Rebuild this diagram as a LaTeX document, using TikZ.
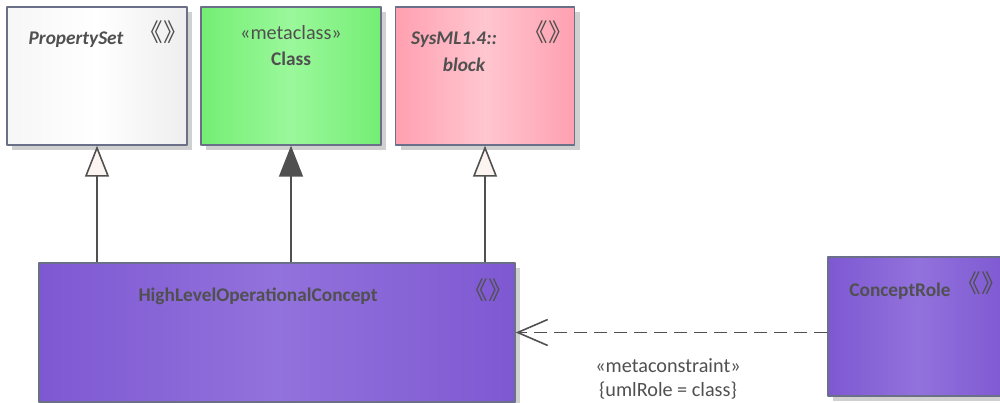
\documentclass[tikz,border=0pt]{standalone}
\usepackage{fontspec}
\setmainfont{Carlito}
\newfontfamily\cjk{Noto Sans CJK SC}
\usetikzlibrary{arrows.meta,shadows}
\definecolor{BorderGray}{HTML}{6B7088}
\definecolor{TextGray}{HTML}{505050}
\definecolor{ShadowGray}{HTML}{D0D0D0}
\definecolor{SetLight}{HTML}{F6F6F6}
\definecolor{SetDark}{HTML}{EEEEEE}
\definecolor{MetaGreen}{HTML}{74EE74}
\definecolor{MetaGreenLight}{HTML}{9AF89A}
\definecolor{BlockPink}{HTML}{FFA0B0}
\definecolor{BlockPinkLight}{HTML}{FFC6D0}
\definecolor{ConceptPurple}{HTML}{7E58D2}
\definecolor{ConceptPurpleLight}{HTML}{9272DC}
\definecolor{TipFill}{HTML}{FBF4F0}

\begin{document}
\begin{tikzpicture}[
  line join=round,
  font=\fontsize{11.5}{13}\selectfont,
  umlbox/.style={draw=BorderGray, line width=0.8pt, inner sep=0pt,
    drop shadow={shadow xshift=0.1cm, shadow yshift=-0.1cm, fill=ShadowGray, opacity=1}},
  title/.style={text=TextGray, font=\fontsize{11}{13}\selectfont\bfseries, inner sep=1pt},
  titleit/.style={title, font=\fontsize{11}{13}\selectfont\bfseries\itshape},
  plain/.style={text=TextGray, inner sep=1pt},
  guil/.style={text=TextGray, font=\fontsize{14}{16}\selectfont\cjk, inner sep=1pt},
  gen/.style={draw=TextGray, line width=0.9pt,
    -{Triangle[open, length=0.62cm, width=0.48cm, fill=TipFill]}},
  genfilled/.style={draw=TextGray, line width=0.9pt,
    -{Triangle[length=0.62cm, width=0.48cm, fill=TextGray]}},
  dep/.style={draw=TextGray, line width=0.9pt, dash pattern=on 0.26cm off 0.14cm,
    -{Straight Barb[length=0.6cm, width=0.52cm]}}
]

% Canvas
\useasboundingbox (0,0) rectangle (20,-8.06);

% === Metaclasses at the top ===
\node[umlbox, minimum width=3.6cm, minimum height=2.76cm,
  left color=SetLight, right color=SetDark, middle color=white] (propset) at (1.94,-1.52) {};
\node[umlbox, minimum width=3.6cm, minimum height=2.76cm,
  left color=MetaGreen, right color=MetaGreen, middle color=MetaGreenLight] (metaclass) at (5.82,-1.52) {};
\node[umlbox, minimum width=3.58cm, minimum height=2.76cm,
  left color=BlockPink, right color=BlockPink, middle color=BlockPinkLight] (block) at (9.70,-1.52) {};

% === Stereotypes below ===
\node[umlbox, minimum width=9.52cm, minimum height=2.78cm,
  left color=ConceptPurple, right color=ConceptPurple, middle color=ConceptPurpleLight] (hloc) at (5.54,-6.65) {};
\node[umlbox, minimum width=3.6cm, minimum height=2.78cm,
  left color=ConceptPurple, right color=ConceptPurple, middle color=ConceptPurpleLight] (crole) at (18.36,-6.53) {};

% Labels
\node[titleit] (propsetname) at (1.52,-0.80) {PropertySet};
\node[guil] (propsetguil) at (3.26,-0.64) {《》};
\node[plain] (metaclassstereo) at (5.82,-0.66) {«metaclass»};
\node[title] (metaclassname) at (5.82,-1.18) {Class};
\node[titleit] (blockns) at (9.08,-0.80) {SysML1.4::};
\node[titleit] (blockname) at (9.28,-1.30) {block};
\node[guil] (blockguil) at (10.96,-0.64) {《》};
\node[title] (hlocname) at (5.16,-5.92) {HighLevelOperationalConcept};
\node[guil] (hlocguil) at (9.76,-5.80) {《》};
\node[title] (crolename) at (18.00,-5.82) {ConceptRole};
\node[guil] (croleguil) at (19.62,-5.66) {《》};

% === Generalizations ===
\draw[gen] (hloc.north -| propset.south) -- (propset.south);
\draw[genfilled] (hloc.north -| metaclass.south) -- (metaclass.south);
\draw[gen] (hloc.north -| block.south) -- (block.south);

% === Metaconstraint ===
\draw[dep] (hloc.east -| crole.west) -- (hloc.east);
\node[plain] (depstereo) at (13.36,-7.32) {«metaconstraint»};
\node[plain] (deprole) at (13.36,-7.82) {\{umlRole = class\}};

\end{tikzpicture}
\end{document}
